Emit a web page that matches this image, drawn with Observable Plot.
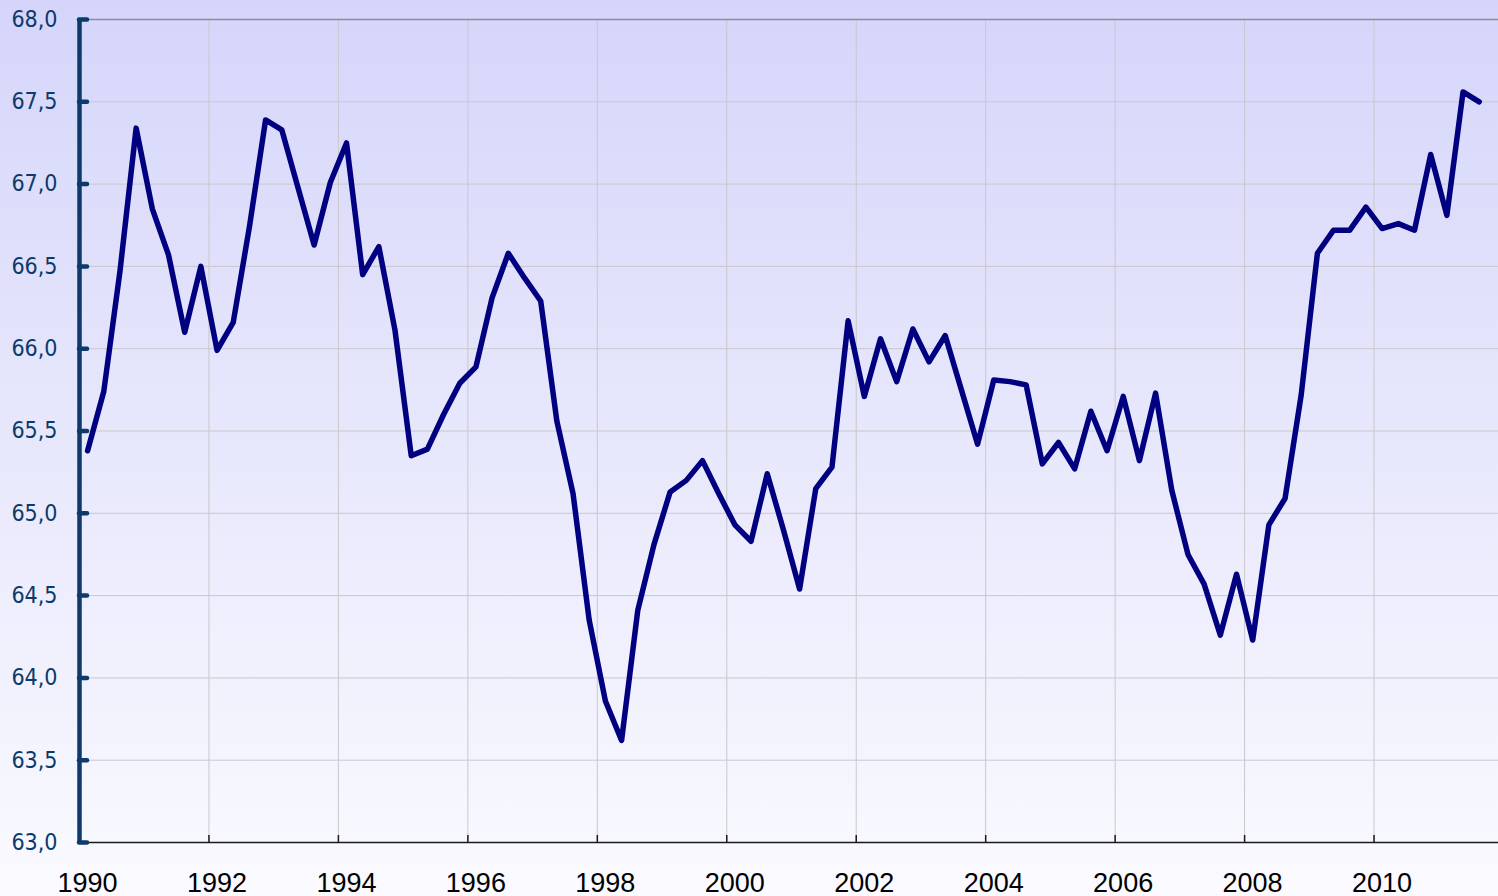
<!DOCTYPE html>
<html>
<head>
<meta charset="utf-8">
<script src="https://cdn.jsdelivr.net/npm/d3@7"></script>
<script src="https://cdn.jsdelivr.net/npm/@observablehq/plot@0.6"></script>
<style>
  html, body { margin: 0; padding: 0; }
  body {
    width: 1498px; height: 896px; overflow: hidden;
    background: linear-gradient(to bottom, #d5d5fb 0%, #e6e6fc 45%, #fafaff 100%);
  }
  #chart svg { display: block; }
</style>
</head>
<body>
<div id="chart"></div>
<script>
// Quarterly series, first quarter of 1990 to third quarter of 2011
const firstYear = 1990;
const values = [
  65.38, 65.74, 66.47, 67.34, // 1990
  66.85, 66.57, 66.10, 66.50, // 1991
  65.99, 66.16, 66.74, 67.39, // 1992
  67.33, 66.98, 66.63, 67.01, // 1993
  67.25, 66.45, 66.62, 66.11, // 1994
  65.35, 65.39, 65.60, 65.79, // 1995
  65.89, 66.31, 66.58, 66.43, // 1996
  66.29, 65.56, 65.12, 64.35, // 1997
  63.86, 63.62, 64.41, 64.81, // 1998
  65.13, 65.20, 65.32, 65.12, // 1999
  64.93, 64.83, 65.24, 64.90, // 2000
  64.54, 65.15, 65.28, 66.17, // 2001
  65.71, 66.06, 65.80, 66.12, // 2002
  65.92, 66.08, 65.75, 65.42, // 2003
  65.81, 65.80, 65.78, 65.30, // 2004
  65.43, 65.27, 65.62, 65.38, // 2005
  65.71, 65.32, 65.73, 65.14, // 2006
  64.75, 64.57, 64.26, 64.63, // 2007
  64.23, 64.93, 65.09, 65.72, // 2008
  66.58, 66.72, 66.72, 66.86, // 2009
  66.73, 66.76, 66.72, 67.18, // 2010
  66.81, 67.56, 67.50         // 2011
];
const xTicks = [1990, 1992, 1994, 1996, 1998, 2000, 2002, 2004, 2006, 2008, 2010];
const yTicks = [63.0, 63.5, 64.0, 64.5, 65.0, 65.5, 66.0, 66.5, 67.0, 67.5, 68.0];

const data = values.map((v, i) => ({ t: firstYear + (i + 0.5) / 4, v }));

const navy = "#0b3a6b";
const yFont = "'DejaVu Sans Condensed', 'Liberation Sans Narrow', 'DejaVu Sans', sans-serif";

const chart = Plot.plot({
  width: 1498,
  height: 896,
  marginLeft: 79,
  marginRight: -5,
  marginTop: 19,
  marginBottom: 54,
  style: { background: "transparent", overflow: "visible" },
  x: { domain: [1990, 2012] },
  y: { domain: [63, 68] },
  marks: [
    // grid
    Plot.ruleY(yTicks.filter(d => d > 63 && d < 68), { stroke: "#c8c8cc", strokeWidth: 1 }),
    Plot.ruleX(xTicks.filter(d => d > 1990), { y1: 63, y2: 68, stroke: "#c8c8cc", strokeWidth: 1 }),
    Plot.ruleY([68], { stroke: "#8e8e94", strokeWidth: 1.5 }),
    // x axis line + ticks
    Plot.ruleY([63], { stroke: "#1a1a1a", strokeWidth: 1.5 }),
    Plot.ruleX(xTicks, { y1: 63, y2: 63 + 7 / 164.7, stroke: "#1a1a1a", strokeWidth: 1.5 }),
    // data line
    Plot.line(data, { x: "t", y: "v", stroke: "#000080", strokeWidth: 5.5, strokeLinejoin: "round", strokeLinecap: "round" }),
    // y axis line + inward ticks
    Plot.ruleX([1990], { y1: 63, y2: 68, stroke: navy, strokeWidth: 4.5 }),
    Plot.ruleY(yTicks, { x1: 1990, x2: 1990 + 8 / 64.7, stroke: navy, strokeWidth: 4.5, strokeLinecap: "round" }),
    // labels
    Plot.axisY({
      ticks: yTicks, tickSize: 0, tickPadding: 22,
      tickFormat: d => d.toFixed(1).replace(".", ","),
      fontSize: 23, fontFamily: yFont, color: navy, label: null
    }),
    Plot.axisX({
      ticks: xTicks, tickSize: 0, tickPadding: 30, dx: 8,
      tickFormat: d => String(d),
      fontSize: 27, fontFamily: "'Liberation Sans', Arial, sans-serif", color: "#000", label: null
    })
  ]
});
document.getElementById("chart").appendChild(chart);
</script>
</body>
</html>
